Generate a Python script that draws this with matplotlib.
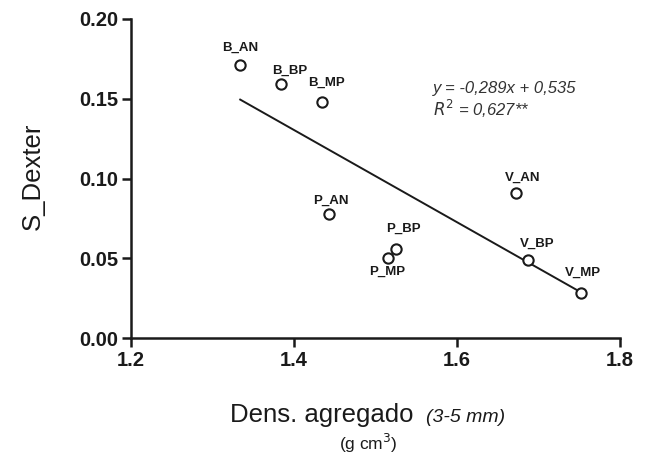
import matplotlib.pyplot as plt
import numpy as np

plt.rcParams['font.family'] = ['Liberation Sans', 'DejaVu Sans']

# data
labels = ['B_AN', 'B_BP', 'B_MP', 'P_AN', 'P_BP', 'P_MP', 'V_AN', 'V_BP', 'V_MP']
dens = [1.334, 1.384, 1.434, 1.443, 1.525, 1.515, 1.672, 1.687, 1.752]
s_dexter = [0.171, 0.159, 0.148, 0.078, 0.056, 0.050, 0.091, 0.049, 0.028]
# label offsets in pixels (dx, dy)
offsets = [(0, 17), (9, 14), (5, 19), (2, 13), (8, 20), (-1, -14), (7, 15), (9, 16), (2, 21)]

slope, intercept = -0.289, 0.535

W, H = 647, 457
fig = plt.figure(figsize=(6.47, 4.57), dpi=100)
ax = fig.add_axes([131 / W, 1 - 338 / H, 489 / W, 319 / H])

xl = np.array([min(dens), max(dens)])
ax.plot(xl, slope * xl + intercept, color='#1a1a1a', lw=1.4, zorder=1)
ax.scatter(dens, s_dexter, s=55, facecolors='white', edgecolors='#1a1a1a', linewidths=1.5, zorder=2)

for x, y, lab, (dx, dy) in zip(dens, s_dexter, labels, offsets):
    ax.annotate(lab, (x, y), xytext=(dx, dy), textcoords='offset pixels',
                ha='center', va='center', fontsize=9.5, fontweight='bold', color='#1a1a1a')

ax.text(0.618, 0.768, 'y = -0,289x + 0,535', transform=ax.transAxes, fontsize=12,
        style='italic', color='#333333', va='baseline')
ax.text(0.618, 0.697, '$R^2$ = 0,627**', transform=ax.transAxes, fontsize=12,
        style='italic', color='#333333', va='baseline')

ax.set_xlim(1.2, 1.8)
ax.set_ylim(0, 0.20)
ax.set_xticks([1.2, 1.4, 1.6, 1.8])
ax.set_yticks([0.00, 0.05, 0.10, 0.15, 0.20])
ax.set_xticklabels(['1.2', '1.4', '1.6', '1.8'])
ax.set_yticklabels(['0.00', '0.05', '0.10', '0.15', '0.20'])
ax.tick_params(width=1.8, length=6.5, labelsize=14.5, colors='#1a1a1a')
ax.tick_params(axis='y', pad=2.5)
ax.tick_params(axis='x', pad=3)
for t in ax.get_xticklabels() + ax.get_yticklabels():
    t.set_fontweight('bold')

for s in ['top', 'right']:
    ax.spines[s].set_visible(False)
for s in ['left', 'bottom']:
    ax.spines[s].set_linewidth(1.8)
    ax.spines[s].set_color('#1a1a1a')

fig.text(40 / W, 1 - 176.5 / H, 'S_Dexter', fontsize=18.5, color='#1a1a1a', rotation=90,
         rotation_mode='anchor', ha='center', va='baseline')

fig.text(414 / W, 1 - 422 / H, 'Dens. agregado', fontsize=18.5, color='#1a1a1a', ha='right', va='baseline')
fig.text(426 / W, 1 - 422 / H, '(3-5 mm)', fontsize=14, style='italic', color='#1a1a1a', ha='left', va='baseline')
fig.text(368 / W, 1 - 450 / H, '(g cm$^3$)', fontsize=12.5, color='#1a1a1a', ha='center', va='baseline')

fig.savefig('out.png', dpi=100)
